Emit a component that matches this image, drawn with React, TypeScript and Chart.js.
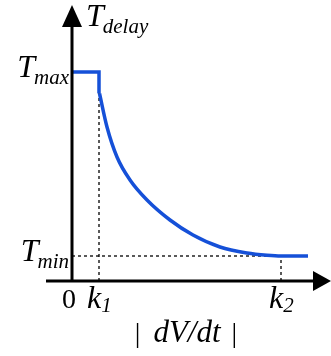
import React, { useEffect, useRef } from "react";
import { Chart, registerables } from "chart.js";

Chart.register(...registerables);

// ---- data (axis units) ----
const T_MAX = 8.36;
const T_MIN = 1.0;
const K1 = 1.08;
const K2 = 8.36;
const X_AXIS_START = -1.04;
const X_AXIS_END = 10.36;
const Y_AXIS_END = 11.04;

const flatX = [0, K1, K1];
const flatY = [T_MAX, T_MAX, 7.5];

const curveX = [1.1, 1.4, 1.8, 2.32, 3.0, 3.92, 4.84, 5.92, 7.0, 7.8, 8.36, 9.44];
const curveY = [7.5, 6.16, 4.96, 4.04, 3.24, 2.44, 1.84, 1.36, 1.12, 1.03, 1.0, 1.0];

const yLabelMain = ["T", "T"];
const yLabelSub = ["max", "min"];
const yLabelValue = [T_MAX, T_MIN];

const xTickMain = ["0", "k", "k"];
const xTickSub = ["", "1", "2"];
const xTickValue = [0, K1, K2];

const yTitleMain = "T";
const yTitleSub = "delay";
const xTitle = ["|", "dV/dt", "|"];

const BLUE = "#1550d8";
const SERIF = "'Liberation Serif', 'Times New Roman', serif";

const pts = (xs: number[], ys: number[]) => xs.map((x, i) => ({ x, y: ys[i] }));

const annotPlugin = {
  id: "annot",
  afterDatasetsDraw(chart: any) {
    const { ctx, scales } = chart;
    const xs = scales.x;
    const ys = scales.y;
    const px = (v: number) => xs.getPixelForValue(v);
    const py = (v: number) => ys.getPixelForValue(v);
    const x0 = px(0);
    const y0 = py(0);
    ctx.save();
    // axes
    ctx.strokeStyle = "#000";
    ctx.fillStyle = "#000";
    ctx.lineWidth = 3;
    ctx.beginPath();
    ctx.moveTo(x0, y0 + 1);
    ctx.lineTo(x0, py(Y_AXIS_END) + 18);
    ctx.moveTo(px(X_AXIS_START), y0);
    ctx.lineTo(px(X_AXIS_END) - 14, y0);
    ctx.stroke();
    // y arrow
    const ty = py(Y_AXIS_END);
    ctx.beginPath();
    ctx.moveTo(x0, ty);
    ctx.lineTo(x0 - 10, ty + 22);
    ctx.lineTo(x0 + 10, ty + 22);
    ctx.closePath();
    ctx.fill();
    // x arrow
    const tx = px(X_AXIS_END);
    ctx.beginPath();
    ctx.moveTo(tx, y0);
    ctx.lineTo(tx - 18, y0 - 10);
    ctx.lineTo(tx - 18, y0 + 10);
    ctx.closePath();
    ctx.fill();

    ctx.textBaseline = "alphabetic";
    const mainFont = `italic 32px ${SERIF}`;
    const subFont = `italic 21px ${SERIF}`;

    // y labels
    yLabelValue.forEach((v, i) => {
      const yy = py(v);
      ctx.font = subFont;
      const sw = ctx.measureText(yLabelSub[i]).width;
      ctx.font = mainFont;
      const mw = ctx.measureText(yLabelMain[i]).width;
      const right = x0 - 3;
      ctx.textAlign = "left";
      ctx.fillText(yLabelMain[i], right - sw - mw + 1, yy + 5);
      ctx.font = subFont;
      ctx.fillText(yLabelSub[i], right - sw, yy + 12);
    });

    // y title
    ctx.textAlign = "left";
    ctx.font = mainFont;
    const tX = x0 + 14;
    ctx.fillText(yTitleMain, tX, ty + 21);
    const tw = ctx.measureText(yTitleMain).width;
    ctx.font = subFont;
    ctx.fillText(yTitleSub, tX + tw - 1, ty + 28);

    // x ticks
    xTickValue.forEach((v, i) => {
      const xx = px(v);
      if (xTickSub[i] === "") {
        ctx.font = `28px ${SERIF}`;
        ctx.textAlign = "center";
        ctx.fillText(xTickMain[i], xx - 3, y0 + 27);
      } else {
        ctx.textAlign = "left";
        ctx.font = mainFont;
        const left = xx - 12;
        ctx.fillText(xTickMain[i], left, y0 + 27);
        const w = ctx.measureText(xTickMain[i]).width;
        ctx.font = subFont;
        ctx.fillText(xTickSub[i], left + w, y0 + 31);
      }
    });

    // x title
    const fonts = [`28px ${SERIF}`, `italic 31px ${SERIF}`, `28px ${SERIF}`];
    const gaps = [13, 11, 0];
    let total = 0;
    const widths = xTitle.map((s, i) => {
      ctx.font = fonts[i];
      const w = ctx.measureText(s).width;
      total += w + gaps[i];
      return w;
    });
    let cx = px(4.56) - total / 2;
    ctx.textAlign = "left";
    xTitle.forEach((s, i) => {
      ctx.font = fonts[i];
      ctx.fillText(s, cx, y0 + 61);
      cx += widths[i] + gaps[i];
    });
    ctx.restore();
  },
};

export default function App() {
  const ref = useRef<HTMLCanvasElement>(null);
  useEffect(() => {
    if (!ref.current) return;
    const dashed = {
      borderColor: "#000",
      borderWidth: 1.3,
      borderDash: [3, 3],
      pointRadius: 0,
      showLine: true,
      clip: false as any,
      tension: 0,
    };
    const chart = new Chart(ref.current, {
      type: "scatter",
      data: {
        datasets: [
          {
            data: pts(curveX, curveY),
            borderColor: BLUE,
            borderWidth: 3.5,
            pointRadius: 0,
            showLine: true,
            cubicInterpolationMode: "monotone",
            clip: false as any,
          },
          {
            data: pts(flatX, flatY),
            borderColor: BLUE,
            borderWidth: 3.5,
            pointRadius: 0,
            showLine: true,
            tension: 0,
            clip: false as any,
          },
          { ...dashed, data: pts([0, 8.0], [T_MIN, T_MIN]) },
          { ...dashed, data: pts([K1, K1], [0, T_MAX]) },
          { ...dashed, data: pts([K2, K2], [0, T_MIN]) },
        ] as any,
      },
      options: {
        animation: false,
        responsive: true,
        maintainAspectRatio: false,
        layout: { padding: { left: 72, right: 9, top: 31, bottom: 75 } },
        plugins: { legend: { display: false }, tooltip: { enabled: false } },
        scales: {
          x: { type: "linear", min: 0, max: 10, display: false },
          y: { type: "linear", min: 0, max: 10, display: false },
        },
      },
      plugins: [annotPlugin],
    });
    return () => chart.destroy();
  }, []);
  return (
    <div style={{ position: "absolute", left: 0, top: 0, width: 331, height: 356, background: "#fff" }}>
      <canvas ref={ref} />
    </div>
  );
}
